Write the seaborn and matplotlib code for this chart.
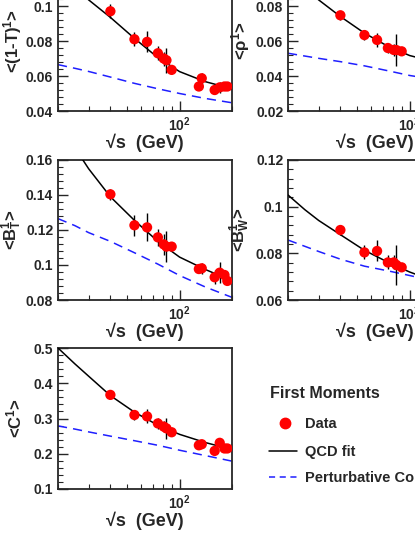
import numpy as np
import pandas as pd
import matplotlib
matplotlib.use("Agg")
import matplotlib.pyplot as plt
import seaborn as sns
from matplotlib.ticker import FixedLocator, MultipleLocator, NullFormatter, FixedFormatter
from matplotlib.lines import Line2D

sns.set_style("ticks")
plt.rcParams['font.family'] = ['Liberation Sans', 'DejaVu Sans']
plt.rcParams['font.weight'] = 'bold'
plt.rcParams['mathtext.fontset'] = 'custom'
plt.rcParams['mathtext.rm'] = 'Liberation Sans:bold'
plt.rcParams['mathtext.bf'] = 'Liberation Sans:bold'
plt.rcParams['mathtext.it'] = 'Liberation Sans:bold'

# data energies (GeV)
energy_all = [40, 55, 65, 75, 81, 84, 90, 129, 134, 159, 170, 181, 188]
energy_low = [40, 55, 65, 75, 81, 84, 90]

thrust_vals = [0.097, 0.081, 0.0795, 0.073, 0.070, 0.069, 0.0635, 0.054, 0.0587, 0.052, 0.0535, 0.054, 0.054]
thrust_err = [0.004, 0.004, 0.006, 0.004, 0.004, 0.007, 0.0015, 0.002, 0.003, 0.002, 0.003, 0.002, 0.002]
rho_vals = [0.0747, 0.0634, 0.0606, 0.056, 0.0549, 0.0548, 0.0541]
rho_err = [0.0025, 0.003, 0.004, 0.003, 0.0035, 0.009, 0.001]
bt_vals = [0.1404, 0.1227, 0.1215, 0.1158, 0.1118, 0.1105, 0.1105, 0.0977, 0.0981, 0.093, 0.0956, 0.0943, 0.0909]
bt_err = [0.003, 0.006, 0.008, 0.005, 0.006, 0.009, 0.002, 0.002, 0.003, 0.004, 0.006, 0.003, 0.002]
bw_vals = [0.090, 0.0804, 0.081, 0.0761, 0.0761, 0.075, 0.074]
bw_err = [0.002, 0.003, 0.0045, 0.003, 0.003, 0.0085, 0.001]
c_vals = [0.367, 0.310, 0.306, 0.286, 0.277, 0.272, 0.261, 0.224, 0.227, 0.208, 0.231, 0.215, 0.215]
c_err = [0.007, 0.015, 0.02, 0.015, 0.015, 0.03, 0.005, 0.005, 0.007, 0.008, 0.015, 0.008, 0.006]

# curves
curve_e = [20, 25, 30, 40, 55, 75, 100, 140, 200]
thrust_fit = [0.122, 0.111, 0.1035, 0.0935, 0.0815, 0.0705, 0.0625, 0.0568, 0.0527]
thrust_pert = [0.0665, 0.0644, 0.0626, 0.0594, 0.0558, 0.0527, 0.0500, 0.0472, 0.0447]
rho_fit = [0.100, 0.0905, 0.0835, 0.0740, 0.0645, 0.0570, 0.0517, 0.0480, 0.0450]
rho_pert = [0.053, 0.0514, 0.0501, 0.0482, 0.0458, 0.0430, 0.0403, 0.0380, 0.0360]
bt_fit = [0.185, 0.167, 0.155, 0.139, 0.1255, 0.1135, 0.1045, 0.0975, 0.0910]
bt_pert = [0.1265, 0.1225, 0.1185, 0.1135, 0.1070, 0.1005, 0.0940, 0.0875, 0.0815]
bw_fit = [0.105, 0.0987, 0.0941, 0.0880, 0.0813, 0.0762, 0.0720, 0.0680, 0.0642]
bw_pert = [0.0857, 0.0830, 0.0808, 0.0775, 0.0745, 0.0725, 0.0705, 0.0680, 0.0660]
c_fit = [0.50, 0.455, 0.420, 0.365, 0.318, 0.281, 0.255, 0.232, 0.212]
c_pert = [0.279, 0.270, 0.262, 0.250, 0.237, 0.224, 0.210, 0.195, 0.179]

W, H = 415, 537
fig = plt.figure(figsize=(W / 100, H / 100), dpi=100)

def axes_px(x0, y0, x1, y1):
    return fig.add_axes([x0 / W, 1 - y1 / H, (x1 - x0) / W, (y1 - y0) / H])

panels = [
    ((58, -29, 232, 111), energy_all, thrust_vals, thrust_err, thrust_fit, thrust_pert, (0.04, 0.12), 0.02, r'<(1-T)$^{1}$>', -0.195),
    ((288, -29, 462, 111), energy_low, rho_vals, rho_err, rho_fit, rho_pert, (0.02, 0.10), 0.02, r'<$\rho^{1}$>', -0.205),
    ((58, 160, 232, 300), energy_all, bt_vals, bt_err, bt_fit, bt_pert, (0.08, 0.16), 0.02, r'<B$_{T}^{1}$>', -0.195),
    ((288, 160, 462, 300), energy_low, bw_vals, bw_err, bw_fit, bw_pert, (0.06, 0.12), 0.02, r'<B$_{W}^{1}$>', -0.205),
    ((58, 348, 232, 489), energy_all, c_vals, c_err, c_fit, c_pert, (0.1, 0.5), 0.1, r'<C$^{1}$>', -0.195),
]

for rect, ex, vals, errs, fit, pert, ylim, step, ylab, ylx in panels:
    ax = axes_px(*rect)
    ax.set_xscale('log')
    dfc = pd.DataFrame({'E': curve_e, 'fit': fit, 'pert': pert})
    sns.lineplot(data=dfc, x='E', y='pert', ax=ax, color='#1f1fff', lw=1.1,
                 linestyle=(0, (6, 4)), zorder=2)
    sns.lineplot(data=dfc, x='E', y='fit', ax=ax, color='black', lw=1.1, zorder=3)
    ax.errorbar(ex, vals, yerr=errs, fmt='none', ecolor='black', elinewidth=1.0, zorder=4)
    sns.scatterplot(x=ex, y=vals, ax=ax, color='red', s=55, edgecolor='none', zorder=5)
    ax.set_xlim(20, 200)
    ax.set_ylim(*ylim)
    ax.xaxis.set_major_locator(FixedLocator([100]))
    ax.xaxis.set_major_formatter(FixedFormatter([r'10$^{2}$']))
    ax.xaxis.set_minor_locator(FixedLocator([20, 30, 40, 50, 60, 70, 80, 90, 200]))
    ax.xaxis.set_minor_formatter(NullFormatter())
    ax.yaxis.set_major_locator(MultipleLocator(step))
    ax.yaxis.set_minor_locator(MultipleLocator(step / 5))
    ax.yaxis.set_major_formatter(matplotlib.ticker.FuncFormatter(lambda v, p: ('%g' % round(v, 4))))
    ax.tick_params(which='both', direction='in', top=False, right=False, labelsize=10)
    ax.tick_params(which='major', length=7, width=1)
    ax.tick_params(which='minor', length=3.5, width=0.8)
    ax.tick_params(axis='x', pad=3)
    for sp in ax.spines.values():
        sp.set_linewidth(1.3)
    ax.set_xlabel('√s  (GeV)', fontsize=13, fontweight='bold', labelpad=0)
    ax.set_ylabel(ylab, fontsize=12, fontweight='bold')
    ax.yaxis.set_label_coords(ylx, 0.5)

# legend
fig.text(270 / W, 1 - 393 / H, 'First Moments', fontsize=11.5, fontweight='bold', va='center', ha='left')
fig.add_artist(Line2D([285 / W], [1 - 423 / H], marker='o', color='red', markersize=7.5, linestyle='none'))
fig.text(305 / W, 1 - 424 / H, 'Data', fontsize=10.5, fontweight='bold', va='center')
fig.add_artist(Line2D([269 / W, 297 / W], [1 - 451 / H] * 2, color='black', lw=1.1))
fig.text(305 / W, 1 - 452 / H, 'QCD fit', fontsize=10.5, fontweight='bold', va='center')
fig.add_artist(Line2D([269 / W, 297 / W], [1 - 477 / H] * 2, color='#1f1fff', lw=1.1, linestyle=(0, (4, 3))))
fig.text(305 / W, 1 - 478 / H, 'Perturbative Component', fontsize=10.5, fontweight='bold', va='center')

fig.savefig('out.png', dpi=100)
